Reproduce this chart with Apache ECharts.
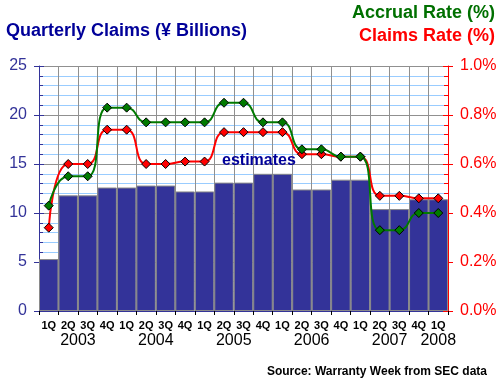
<!DOCTYPE html>
<html><head><meta charset="utf-8">
<script src="https://cdn.jsdelivr.net/npm/echarts@6/dist/echarts.min.js"></script>
<style>html,body{margin:0;padding:0;background:#fff}#c{width:500px;height:385px}</style>
</head><body><div id="c"></div>
<script>
var quarters = ['1Q','2Q','3Q','4Q','1Q','2Q','3Q','4Q','1Q','2Q','3Q','4Q','1Q','2Q','3Q','4Q','1Q','2Q','3Q','4Q','1Q'];
var years = ['2003','2004','2005','2006','2007','2008'];
var yearPos = [2, 6, 10, 14, 18, 20.5];
var claims = [5.3,11.8,11.8,12.6,12.6,12.8,12.8,12.2,12.2,13.1,13.1,14.0,14.0,12.4,12.4,13.4,13.4,10.4,10.4,11.4,11.4];
var claimsRate = [0.34,0.60,0.60,0.74,0.74,0.60,0.60,0.61,0.61,0.73,0.73,0.73,0.73,0.64,0.64,0.63,0.63,0.47,0.47,0.46,0.46];
var accrualRate = [0.43,0.55,0.55,0.83,0.83,0.77,0.77,0.77,0.77,0.85,0.85,0.77,0.77,0.66,0.66,0.63,0.63,0.33,0.33,0.40,0.40];
var leftTicks = [0,5,10,15,20,25];
var rightTicks = [0,0.2,0.4,0.6,0.8,1.0];

var F = 'Arial, "Liberation Sans", sans-serif';
var chart = echarts.init(document.getElementById('c'));
function innerTickAxis(color, lo, hi, step, pos) {
  return {type: 'value', min: lo, max: hi, interval: step, position: pos,
    axisLine: {show: false}, axisLabel: {show: false}, splitLine: {show: false},
    axisTick: {show: true, inside: true, length: 5, lineStyle: {color: color}}};
}
chart.setOption({
  animation: false,
  backgroundColor: '#fff',
  title: [
    {text: 'Quarterly Claims (\u00A5 Billions)', left: 1, top: 17, textStyle: {color: '#000099', fontSize: 18, fontWeight: 'bold', fontFamily: F}},
    {text: 'Accrual Rate (%)', right: 0, top: -1, textStyle: {color: '#007000', fontSize: 18, fontWeight: 'bold', fontFamily: F}},
    {text: 'Claims Rate (%)', right: 0, top: 22, textStyle: {color: '#ff0000', fontSize: 18, fontWeight: 'bold', fontFamily: F}},
    {text: 'Source: Warranty Week from SEC data', right: 8, top: 361, textStyle: {color: '#000', fontSize: 12, fontWeight: 'bold', fontFamily: F}}
  ],
  graphic: [
    {type: 'text', left: 222, top: 153, z: 5, style: {text: 'estimates', fill: '#000099', font: 'bold 16px ' + F}}
  ],
  grid: {left: 39, right: 52, top: 66, bottom: 74, containLabel: false},
  xAxis: [
    {type: 'category', data: quarters, boundaryGap: true,
     axisLine: {lineStyle: {color: '#333399', width: 1}},
     axisTick: {show: true, length: 4, lineStyle: {color: '#000'}, interval: 0},
     axisLabel: {interval: 0, color: '#000', fontSize: 11, fontWeight: 'bold', fontFamily: F, margin: 9},
     splitLine: {show: true, interval: 0, lineStyle: {color: '#909090', width: 1}}
    },
    {type: 'value', position: 'bottom', min: 0, max: 21, interval: 0.5,
     axisLine: {show: false}, axisTick: {show: false}, splitLine: {show: false},
     axisLabel: {color: '#000', fontSize: 16, fontFamily: F, margin: 22, showMinLabel: true, showMaxLabel: true,
       formatter: function (v) { var i = yearPos.indexOf(v); return i >= 0 ? years[i] : ''; }}
    }
  ],
  yAxis: [
    {type: 'value', min: leftTicks[0], max: leftTicks[leftTicks.length - 1], interval: 5,
     axisLine: {show: true, lineStyle: {color: '#333399'}},
     axisTick: {show: true, length: 5, lineStyle: {color: '#333399'}},
     minorTick: {show: true, splitNumber: 5, length: -4, lineStyle: {color: '#333399'}},
     axisLabel: {color: '#333399', fontSize: 16, fontFamily: F, margin: 12},
     splitLine: {show: true, lineStyle: {color: '#909090', width: 1}},
     minorSplitLine: {show: true, lineStyle: {color: '#99ccff', width: 1}}
    },
    {type: 'value', min: rightTicks[0], max: rightTicks[rightTicks.length - 1], interval: 0.2, position: 'right',
     axisLine: {show: true, lineStyle: {color: '#ff0000'}},
     axisTick: {show: true, length: 5, lineStyle: {color: '#ff0000'}},
     minorTick: {show: true, splitNumber: 5, length: -4, lineStyle: {color: '#ff0000'}},
     axisLabel: {color: '#ff0000', fontSize: 16, fontFamily: F, margin: 12,
       formatter: function (v) { return v.toFixed(1) + '%'; }},
     splitLine: {show: false}
    },
    innerTickAxis('#333399', leftTicks[0], leftTicks[leftTicks.length - 1], 5, 'left'),
    innerTickAxis('#ff0000', rightTicks[0], rightTicks[rightTicks.length - 1], 0.2, 'right')
  ],
  series: [
    {type: 'bar', data: claims, xAxisIndex: 0, yAxisIndex: 0, barCategoryGap: '0%',
     itemStyle: {color: '#333399', borderColor: '#8a8a8a', borderWidth: 1}},
    {type: 'line', data: claimsRate, xAxisIndex: 0, yAxisIndex: 1, smooth: 0.5,
     lineStyle: {color: '#ff0000', width: 2}, symbol: 'diamond', symbolSize: 9,
     itemStyle: {color: '#ff0000', borderColor: '#000', borderWidth: 1}, z: 3},
    {type: 'line', data: accrualRate, xAxisIndex: 0, yAxisIndex: 1, smooth: 0.5,
     lineStyle: {color: '#007a00', width: 2}, symbol: 'diamond', symbolSize: 9,
     itemStyle: {color: '#007a00', borderColor: '#000', borderWidth: 1}, z: 4}
  ]
});
</script></body></html>
